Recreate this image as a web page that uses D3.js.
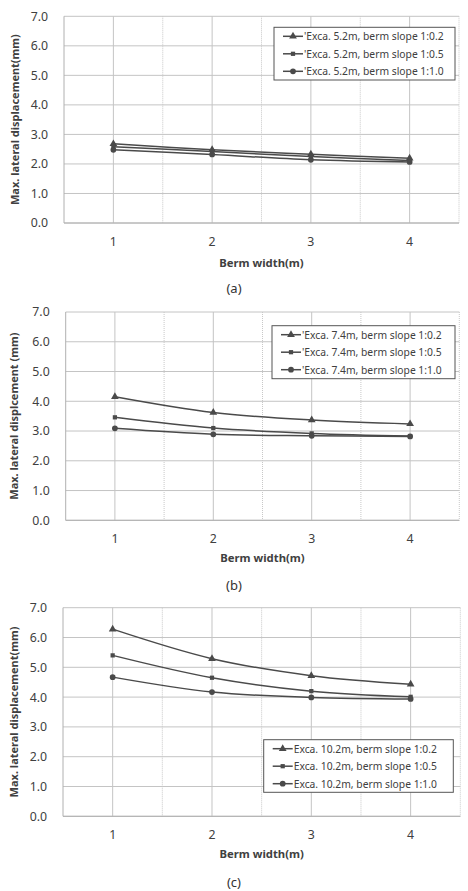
<!DOCTYPE html>
<html>
<head>
<meta charset="utf-8">
<script src="https://cdn.jsdelivr.net/npm/d3@7"></script>
<style>
  body { margin: 0; background: #fff; }
  text { font-family: "Noto Sans", "Open Sans", sans-serif; fill: #333; }
</style>
</head>
<body>
<div id="chart"></div>
<script>
// berm widths shared by all three panels
var bermWidths = ["1", "2", "3", "4"];
var yTicks = [0, 1, 2, 3, 4, 5, 6, 7];
var slopeNames = ["1:0.2", "1:0.5", "1:1.0"];

// (a) excavation 5.2m
var exca52_s02 = [2.68, 2.48, 2.33, 2.19];
var exca52_s05 = [2.58, 2.42, 2.25, 2.12];
var exca52_s10 = [2.48, 2.32, 2.14, 2.07];

// (b) excavation 7.4m
var exca74_s02 = [4.15, 3.62, 3.37, 3.24];
var exca74_s05 = [3.46, 3.10, 2.92, 2.83];
var exca74_s10 = [3.09, 2.89, 2.84, 2.82];

// (c) excavation 10.2m
var exca102_s02 = [6.28, 5.29, 4.72, 4.43];
var exca102_s05 = [5.40, 4.65, 4.20, 4.01];
var exca102_s10 = [4.67, 4.17, 3.99, 3.94];

var markers = [d3.symbolTriangle, d3.symbolSquare, d3.symbolCircle];
var markerSize = [26, 18, 26];

var svg = d3.select('#chart')
    .append('svg')
    .attr('width', 468)
    .attr('height', 891)

var panels = [
  { left: 64, right: 459, top: 16.3, bottom: 223, tickY: 246, xLabY: 267, capY: 293, yLabX: 19,
    yLabel: "Max. lateral displacement(mm)", prefix: "'Exca. 5.2m", series: [exca52_s02, exca52_s05, exca52_s10],
    legend: { x: 274, y: 27.3, w: 181, h: 52.7 }, caption: "(a)" },
  { left: 65.7, right: 459.3, top: 312, bottom: 520.3, tickY: 542.5, xLabY: 562, capY: 590, yLabX: 18,
    yLabel: "Max. lateral displcement (mm)", prefix: "'Exca. 7.4m", series: [exca74_s02, exca74_s05, exca74_s10],
    legend: { x: 272, y: 325.7, w: 183, h: 53 }, caption: "(b)" },
  { left: 63, right: 460.3, top: 607.7, bottom: 816.3, tickY: 839, xLabY: 858, capY: 887, yLabX: 18,
    yLabel: "Max. lateral displacement(mm)", prefix: "Exca. 10.2m", series: [exca102_s02, exca102_s05, exca102_s10],
    legend: { x: 263.7, y: 739.7, w: 189.6, h: 52.6 }, caption: "(c)" }
];

panels.forEach(function(p) {
    var g = svg.append('g')

    var x = d3.scaleBand()
        .domain(bermWidths)
        .range([p.left, p.right])
        .paddingInner(0)
        .paddingOuter(0)

    var y = d3.scaleLinear()
        .domain([0, 7])
        .range([p.bottom, p.top])

    // horizontal grid
    g.append('g')
        .selectAll('line')
        .data(yTicks)
        .enter()
        .append('line')
        .attr('x1', p.left)
        .attr('x2', p.right)
        .attr('y1', function(d) { return y(d) })
        .attr('y2', function(d) { return y(d) })
        .style('stroke', '#c4c4c4')
        .style('stroke-width', 1)

    // dotted lines at band edges
    var edges = bermWidths.map(function(d) { return x(d) + x.bandwidth() })
    g.append('g')
        .selectAll('line')
        .data(edges)
        .enter()
        .append('line')
        .attr('x1', function(d) { return d })
        .attr('x2', function(d) { return d })
        .attr('y1', p.top)
        .attr('y2', p.bottom)
        .style('stroke', '#c8c8c8')
        .style('stroke-dasharray', '1,1')

    // solid lines at category centres
    g.append('g')
        .selectAll('line')
        .data(bermWidths)
        .enter()
        .append('line')
        .attr('x1', function(d) { return x(d) + x.bandwidth() / 2 })
        .attr('x2', function(d) { return x(d) + x.bandwidth() / 2 })
        .attr('y1', p.top)
        .attr('y2', p.bottom)
        .style('stroke', '#c4c4c4')

    // left + bottom axis lines
    g.append('line')
        .attr('x1', p.left).attr('x2', p.left)
        .attr('y1', p.top).attr('y2', p.bottom)
        .style('stroke', '#b0b0b0')
    g.append('line')
        .attr('x1', p.left).attr('x2', p.right)
        .attr('y1', p.bottom).attr('y2', p.bottom)
        .style('stroke', '#b0b0b0')

    // y tick labels
    var yAxis = g.append('g')
        .attr('transform', 'translate(' + (p.left - 6) + ',0)')
        .call(d3.axisLeft(y).tickValues(yTicks).tickSize(0).tickFormat(d3.format('.1f')))
    yAxis.select('.domain').remove()
    yAxis.selectAll('text')
        .attr('x', -10)
        .style('font-size', '12.3px')
        .style('fill', '#404040')
        .style('font-family', '"Noto Sans", sans-serif')

    // x tick labels
    g.append('g')
        .selectAll('text')
        .data(bermWidths)
        .enter()
        .append('text')
        .attr('x', function(d) { return x(d) + x.bandwidth() / 2 })
        .attr('y', p.tickY)
        .attr('text-anchor', 'middle')
        .style('font-size', '12.3px')
        .style('fill', '#404040')
        .text(function(d) { return d })

    g.append('text')
        .attr('x', (p.left + p.right) / 2)
        .attr('y', p.xLabY)
        .attr('text-anchor', 'middle')
        .style('font-size', '11.3px')
        .style('font-weight', 'bold')
        .style('fill', '#404040')
        .text('Berm width(m)')

    g.append('text')
        .attr('transform', 'translate(' + p.yLabX + ',' + ((p.top + p.bottom) / 2) + ') rotate(-90)')
        .attr('text-anchor', 'middle')
        .style('font-size', '11px')
        .style('font-weight', 'bold')
        .style('fill', '#404040')
        .text(p.yLabel)

    g.append('text')
        .attr('x', 234)
        .attr('y', p.capY)
        .attr('text-anchor', 'middle')
        .style('font-size', '13px')
        .style('fill', '#333')
        .text(p.caption)

    var line = d3.line()
        .x(function(d, i) { return x(bermWidths[i]) + x.bandwidth() / 2 })
        .y(function(d) { return y(d) })
        .curve(d3.curveCatmullRom.alpha(0.5))

    p.series.forEach(function(vals, si) {
        g.append('path')
            .datum(vals)
            .attr('d', line)
            .style('fill', 'none')
            .style('stroke', '#4a4a4a')
            .style('stroke-width', 1.5)

        g.append('g')
            .selectAll('path')
            .data(vals)
            .enter()
            .append('path')
            .attr('transform', function(d, i) { return 'translate(' + (x(bermWidths[i]) + x.bandwidth() / 2) + ',' + y(d) + ')' })
            .attr('d', d3.symbol().type(markers[si]).size(markerSize[si]))
            .style('fill', '#4a4a4a')
    })

    // legend
    var lg = g.append('g')
    lg.append('rect')
        .attr('x', p.legend.x)
        .attr('y', p.legend.y)
        .attr('width', p.legend.w)
        .attr('height', p.legend.h)
        .style('fill', '#fff')
        .style('stroke', '#555')
        .style('stroke-width', 1)

    slopeNames.forEach(function(name, si) {
        var ly = p.legend.y + 9 + si * 17.5
        var lx = p.legend.x + 9
        lg.append('line')
            .attr('x1', lx).attr('x2', lx + 20)
            .attr('y1', ly).attr('y2', ly)
            .style('stroke', '#4a4a4a')
            .style('stroke-width', 1.5)
        lg.append('path')
            .attr('transform', 'translate(' + (lx + 10) + ',' + ly + ')')
            .attr('d', d3.symbol().type(markers[si]).size(markerSize[si]))
            .style('fill', '#4a4a4a')
        lg.append('text')
            .attr('x', lx + 21)
            .attr('y', ly + 3.8)
            .style('font-size', '10.3px')
            .style('fill', '#404040')
            .text(p.prefix + ', berm slope ' + name)
    })
})
</script>
</body>
</html>
